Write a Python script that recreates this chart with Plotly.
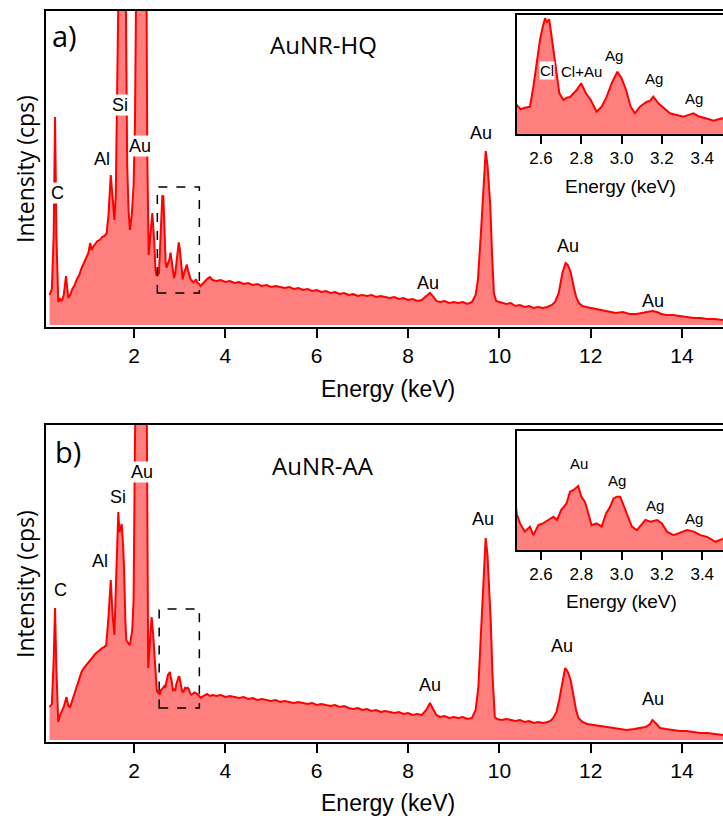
import plotly.graph_objects as go

W, H = 723, 819

# ---------------- data ----------------
energy_hq = [0.15, 0.20, 0.24, 0.27, 0.30, 0.34, 0.38, 0.42, 0.46, 0.51, 0.56, 0.60, 0.65, 0.70, 0.75,
             0.80, 0.85, 0.90, 0.95, 1.00, 1.04, 1.07, 1.10, 1.15, 1.20, 1.25, 1.30, 1.35, 1.40, 1.44,
             1.49, 1.53, 1.57, 1.60, 1.63, 1.66, 1.74, 1.82, 1.85, 1.88, 1.91, 1.95, 1.99, 2.02, 2.05,
             2.14, 2.27, 2.29, 2.32, 2.36, 2.40, 2.44, 2.47,
             2.499, 2.52, 2.545, 2.562, 2.579, 2.595, 2.608, 2.620, 2.630, 2.641, 2.653, 2.669, 2.691,
             2.711, 2.727, 2.744, 2.760, 2.777, 2.799, 2.811, 2.823, 2.847, 2.862, 2.876, 2.901, 2.926,
             2.951, 2.965, 2.979, 3.000, 3.022, 3.045, 3.066, 3.091, 3.110, 3.125, 3.140, 3.157, 3.182,
             3.210, 3.240, 3.273, 3.306, 3.330, 3.356, 3.380, 3.406, 3.430, 3.456, 3.497,
             3.55, 3.60, 3.66, 3.72, 3.80, 3.90, 4.00, 4.10, 4.20, 4.30, 4.40, 4.50, 4.60, 4.70, 4.80,
             4.90, 5.00, 5.10, 5.20, 5.30, 5.40, 5.50, 5.60, 5.70, 5.80, 5.90, 6.00, 6.10, 6.20, 6.30,
             6.40, 6.50, 6.60, 6.70, 6.80, 6.90, 7.00, 7.10, 7.20, 7.30, 7.40, 7.50, 7.60, 7.70, 7.80,
             7.90, 8.00, 8.10, 8.20, 8.30, 8.40, 8.48, 8.56, 8.62, 8.70, 8.80, 8.90, 9.00, 9.10, 9.20,
             9.30, 9.40, 9.48, 9.53, 9.60, 9.66, 9.70, 9.74, 9.80, 9.84, 9.88, 9.93, 10.05, 10.15, 10.25,
             10.35, 10.45, 10.55, 10.65, 10.75, 10.85, 10.95, 11.05, 11.15, 11.22, 11.30, 11.38, 11.45,
             11.50, 11.56, 11.62, 11.68, 11.74, 11.82, 11.90, 12.00, 12.10, 12.20, 12.30, 12.42, 12.55,
             12.70, 12.85, 13.00, 13.15, 13.25, 13.35, 13.45, 13.55, 13.66, 13.80, 13.95, 14.10, 14.25,
             14.40, 14.55, 14.70, 14.90]
counts_hq = [30, 36, 90, 208, 90, 23, 26, 24, 30, 49, 27, 30, 36, 40, 46,
             50, 57, 62, 66, 72, 82, 75, 78, 81, 84, 85, 88, 89, 92, 110,
             150, 128, 105, 130, 225, 340, 430, 330, 160, 115, 95, 110, 140, 200, 360,
             600, 360, 170, 70, 88, 112, 85, 55,
             49.2, 50.5, 51.5, 69, 93, 110.8, 122, 130, 127, 129.1, 113.4, 90.3, 63.6,
             57.4, 59.5, 60.1, 63.5, 66.3, 72.3, 67.5, 63.4, 57.4, 52, 47, 51.5, 60.4,
             72.3, 77, 82.6, 76.7, 66.3, 51.5, 45.6, 51.5, 54, 55.9, 56.5, 60.4, 54.5,
             50, 45.6, 44.1, 42.6, 44, 45.6, 43, 42, 40.5, 39, 41.2,
             44, 46, 48, 45, 44, 45, 43, 44, 42, 43, 41, 42, 40, 41, 39,
             40, 38, 39, 38, 37, 38, 36, 37, 35, 36, 34, 35, 33, 34, 32,
             33, 31, 32, 30, 31, 29, 30, 29, 30, 28, 29, 28, 27, 28, 26,
             27, 25, 26, 24, 25, 29, 32, 28, 24, 23, 24, 22, 23, 22, 23,
             21, 23, 30, 45, 95, 145, 174, 160, 120, 70, 32, 24, 22, 21, 22,
             19, 20, 18, 19, 17, 18, 17, 18, 20, 23, 32, 52, 62,
             60, 53, 40, 28, 22, 19, 18, 17, 16, 15, 14, 13, 12,
             13, 11, 11, 12, 13, 14, 13, 11, 10, 10, 9, 8, 7,
             7, 6, 6, 5]

energy_aa = [0.15, 0.20, 0.24, 0.27, 0.30, 0.34, 0.38, 0.41, 0.46, 0.52, 0.56, 0.60, 0.65, 0.70, 0.75,
             0.80, 0.85, 0.90, 0.95, 1.00, 1.05, 1.10, 1.15, 1.20, 1.25, 1.30, 1.35, 1.39, 1.44, 1.49,
             1.53, 1.57, 1.60, 1.64, 1.655, 1.68, 1.70, 1.73, 1.76, 1.78, 1.81, 1.83, 1.87, 1.91, 1.96,
             1.99, 2.02, 2.05, 2.14, 2.27, 2.29, 2.31, 2.35, 2.385, 2.42, 2.45, 2.48,
             2.496, 2.52, 2.545, 2.562, 2.587, 2.61, 2.636, 2.661, 2.68, 2.70, 2.727, 2.744, 2.76,
             2.785, 2.80, 2.818, 2.835, 2.851, 2.876, 2.901, 2.923, 2.943, 2.96, 2.976, 2.993, 3.01,
             3.026, 3.051, 3.076, 3.101, 3.118, 3.143, 3.176, 3.20, 3.225, 3.258, 3.30, 3.325, 3.358,
             3.391, 3.424, 3.466, 3.506,
             3.55, 3.60, 3.66, 3.72, 3.80, 3.90, 4.00, 4.10, 4.20, 4.30, 4.40, 4.50, 4.60, 4.70, 4.80,
             4.90, 5.00, 5.10, 5.20, 5.30, 5.40, 5.50, 5.60, 5.70, 5.80, 5.90, 6.00, 6.10, 6.20, 6.30,
             6.40, 6.50, 6.60, 6.70, 6.80, 6.90, 7.00, 7.10, 7.20, 7.30, 7.40, 7.50, 7.60, 7.70, 7.80,
             7.90, 8.00, 8.10, 8.20, 8.30, 8.40, 8.48, 8.56, 8.62, 8.70, 8.80, 8.90, 9.00, 9.10, 9.20,
             9.30, 9.40, 9.48, 9.54, 9.60, 9.66, 9.70, 9.74, 9.81, 9.85, 9.90, 9.95, 10.05, 10.15, 10.25,
             10.35, 10.45, 10.55, 10.65, 10.75, 10.85, 10.96, 11.05, 11.12, 11.18, 11.25, 11.31, 11.38,
             11.44, 11.50, 11.56, 11.62, 11.68, 11.73, 11.82, 11.92, 12.06, 12.20, 12.35, 12.50, 12.65,
             12.79, 12.95, 13.08, 13.20, 13.30, 13.35, 13.42, 13.52, 13.65, 13.80, 13.95, 14.10, 14.24,
             14.40, 14.55, 14.70, 14.90]
counts_aa = [33, 36, 80, 132, 70, 18, 25, 28, 33, 43, 34, 33, 40, 48, 55,
             63, 68, 72, 75, 78, 81, 83, 86, 88, 90, 92, 93, 95, 123, 160,
             125, 105, 150, 215, 228, 208, 212, 216, 195, 173, 120, 100, 97, 95, 110,
             140, 300, 450, 650, 400, 200, 72, 100, 123, 105, 80, 55,
             50.7, 46.9, 49.2, 45.3, 49.9, 50.7, 52.3, 53.8, 52.3, 56.9, 60, 65.4, 66.1,
             68, 63.1, 60.7, 55.3, 49.9, 50.7, 49.2, 55.3, 58.4, 62.3, 63.1, 63.1, 59.2,
             55.3, 49.2, 47.6, 50.7, 52.3, 51.5, 52.3, 50.7, 46.9, 45.3, 46.9, 47.6, 46.9,
             45.3, 44.5, 42.2, 43.7,
             45, 46, 44, 45, 44, 45, 43, 44, 43, 42, 43, 41, 42, 40, 41,
             40, 39, 40, 38, 39, 38, 37, 38, 37, 36, 37, 35, 36, 35, 34,
             35, 33, 34, 32, 31, 32, 30, 31, 29, 30, 28, 29, 28, 27, 28,
             26, 27, 25, 26, 25, 30, 37, 30, 25, 23, 24, 22, 23, 22, 23,
             21, 22, 30, 53, 110, 175, 202, 185, 120, 65, 23, 21, 20, 21, 20,
             19, 20, 18, 19, 17, 18, 17, 18, 19, 22, 28, 40, 58,
             72, 68, 60, 45, 30, 22, 18, 16, 15, 14, 13, 12, 11,
             10, 11, 12, 13, 16, 20, 17, 12, 11, 10, 9, 9, 8,
             7, 7, 6, 5]

main_ticks = [2, 4, 6, 8, 10, 12, 14]
inset_ticks = [2.6, 2.8, 3.0, 3.2, 3.4]

# ---------------- styling / layout ----------------
RED = "#ff0000"
FILL = "rgba(255,0,0,0.5)"
ARIAL = "Liberation Sans, Arial, sans-serif"
SEGOE = "Open Sans, sans-serif"

def px(x):
    return x / W

def py(y):
    return 1 - y / H

fig = go.Figure()

panels = [
    ("x", "y", energy_hq, counts_hq),
    ("x2", "y2", energy_aa, counts_aa),
    ("x3", "y3", energy_hq, counts_hq),
    ("x4", "y4", energy_aa, counts_aa),
]
for xa, ya, e, c in panels:
    fig.add_trace(go.Scatter(x=e, y=c, xaxis=xa, yaxis=ya, mode="lines",
                             line=dict(color=RED, width=2), fill="tozeroy",
                             fillcolor=FILL, hoverinfo="skip", showlegend=False))

def xaxis_style(dom, rng, ticks, fs, tl, fmt=None, anchor="y"):
    d = dict(domain=dom, range=rng, anchor=anchor, showgrid=False, zeroline=False,
             showline=True, linecolor="black", linewidth=1.5, mirror=True,
             ticks="outside", ticklen=tl, tickwidth=1.5, tickcolor="black",
             tickvals=ticks, tickfont=dict(family=ARIAL, size=fs, color="black"))
    if fmt:
        d["tickformat"] = fmt
    return d

def yaxis_style(dom, rng, anchor):
    return dict(domain=dom, range=rng, anchor=anchor, showgrid=False, zeroline=False,
                showline=True, linecolor="black", linewidth=1.5, mirror=False,
                showticklabels=False, ticks="")

fig.update_layout(
    width=W, height=H, margin=dict(l=0, r=0, t=0, b=0),
    paper_bgcolor="white", plot_bgcolor="white",
    xaxis=xaxis_style([px(46), 1], [0.072, 14.897], main_ticks, 21, 9, anchor="y"),
    yaxis=yaxis_style([py(327), py(11)], [-2, 314], "x"),
    xaxis2=xaxis_style([px(46), 1], [0.072, 14.897], main_ticks, 21, 9, anchor="y2"),
    yaxis2=yaxis_style([py(742), py(425)], [-2, 315], "x2"),
    xaxis3=xaxis_style([px(517), 1], [2.481, 3.503], inset_ticks, 17, 8, ".1f", anchor="y3"),
    yaxis3=yaxis_style([py(134), py(15)], [27.2, 133], "x3"),
    xaxis4=xaxis_style([px(517), 1], [2.481, 3.503], inset_ticks, 17, 8, ".1f", anchor="y4"),
    yaxis4=yaxis_style([py(550), py(431)], [38.4, 93.5], "x4"),
)

zoom_box_hq = dict(x0=2.51, x1=3.43, y0=32, y1=138)
zoom_box_aa = dict(x0=2.55, x1=3.43, y0=32, y1=131)
for ax, box in (("", zoom_box_hq), ("2", zoom_box_aa)):
    fig.add_shape(type="rect", xref="x" + ax, yref="y" + ax, **box,
                  line=dict(color="black", width=1.5, dash="dash"))

annotations = []

def label(text, x, y, size, family=ARIAL, bg=None):
    a = dict(text=text, x=px(x), y=py(y), xref="paper", yref="paper",
             showarrow=False, xanchor="center", yanchor="middle",
             font=dict(family=family, size=size, color="black"), borderpad=0)
    if bg:
        a["bgcolor"] = bg
    annotations.append(a)

label("a)", 64.5, 36, 29, SEGOE)
label("AuNR-HQ", 323, 44.5, 24, SEGOE)
label("C", 57.7, 192.7, 18, bg="white")
label("Al", 101.7, 159, 18)
label("Si", 120, 105, 18, bg="white")
label("Au", 140, 145.7, 18, bg="white")
label("Au", 428.3, 283.3, 18)
label("Au", 480.7, 133.3, 18)
label("Au", 568.3, 245.7, 18)
label("Au", 653.3, 300.7, 18)
label("b)", 68, 451, 29, SEGOE)
label("AuNR-AA", 322.5, 465, 24, SEGOE)
label("C", 60, 590, 18)
label("Al", 100, 560.7, 18)
label("Si", 118.3, 496.7, 18)
label("Au", 141.7, 471.7, 18, bg="white")
label("Au", 430, 685, 18)
label("Au", 483, 519, 18)
label("Au", 562.3, 646, 18)
label("Au", 653.3, 699.3, 18)
label("Cl", 546.7, 70, 15, bg="white")
label("Cl+Au", 581, 71.7, 15)
label("Ag", 614.3, 56, 15)
label("Ag", 654, 79, 15)
label("Ag", 694, 98.3, 15)
label("Au", 579, 463.3, 15)
label("Ag", 616.7, 480.7, 15)
label("Ag", 655, 505, 15)
label("Ag", 694.3, 518.3, 15)
label("Energy (keV)", 388, 389, 23)
label("Energy (keV)", 388, 803, 23)
label("Energy (keV)", 620, 186.7, 19)
label("Energy (keV)", 621.7, 601.7, 19)
for yc in (169, 584):
    annotations.append(dict(text="Intensity (cps)", x=px(25), y=py(yc), xref="paper", yref="paper",
                            showarrow=False, textangle=-90, xanchor="center", yanchor="middle",
                            font=dict(family=SEGOE, size=23, color="black")))

fig.update_layout(annotations=annotations)
fig.write_html("out.html", config={"displayModeBar": False},
               post_script="document.body.style.margin='0px';document.body.style.overflow='hidden';")
